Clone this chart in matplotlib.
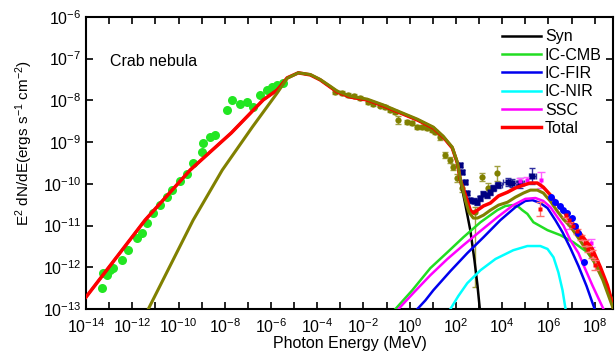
import numpy as np
import matplotlib
matplotlib.use("Agg")
import matplotlib.pyplot as plt

plt.rcParams['font.family'] = ['Liberation Sans', 'DejaVu Sans']
plt.rcParams['mathtext.fontset'] = 'custom'
plt.rcParams['mathtext.rm'] = 'Liberation Sans'
plt.rcParams['mathtext.it'] = 'Liberation Sans'

# all values are log10(E / MeV) and log10(E^2 dN/dE / erg s^-1 cm^-2)

syn_loge = [-14.0, -11.45, -9.5, -7.72, -6.34, -5.73, -5.30, -4.82, -4.30, -3.87, -3.44, -3.13,
            -2.57, -1.84, -1.14, -0.41, 0.33, 1.02, 1.45, 1.84, 2.06, 2.19, 2.41, 2.62, 2.80,
            2.93, 3.05]
syn_logf = [-12.71, -10.87, -9.67, -8.78, -7.99, -7.75, -7.46, -7.34, -7.39, -7.51, -7.68, -7.80,
            -7.92, -7.99, -8.13, -8.30, -8.47, -8.66, -8.88, -9.14, -9.50, -9.91, -10.51, -11.11,
            -11.83, -12.43, -13.1]

total_loge = [-14.0, -11.45, -9.5, -7.72, -6.34, -5.73, -5.30, -4.82, -4.30, -3.87, -3.44, -3.13,
              -2.57, -1.84, -1.14, -0.41, 0.33, 1.02, 1.45, 1.84, 2.06, 2.19, 2.41, 2.62, 2.75,
              2.93, 3.19, 3.49, 3.84, 4.23, 4.57, 4.92, 5.22, 5.52, 5.78, 6.09, 6.39, 6.65,
              6.95, 7.30, 7.60, 7.90, 8.25, 8.55, 8.81]
total_logf = [-12.71, -10.87, -9.67, -8.78, -7.99, -7.75, -7.46, -7.34, -7.39, -7.51, -7.68, -7.80,
              -7.92, -7.99, -8.13, -8.30, -8.47, -8.66, -8.88, -9.14, -9.50, -9.91, -10.27, -10.63,
              -10.70, -10.63, -10.53, -10.46, -10.29, -10.20, -10.10, -10.03, -9.98, -9.98, -10.08,
              -10.27, -10.49, -10.66, -10.87, -11.13, -11.35, -11.56, -12.0, -12.43, -12.95]

olive_loge = [-11.40, -9.37, -8.11, -6.81, -5.73, -5.30, -4.82, -4.30, -3.87, -3.44, -3.13, -2.57,
              -1.84, -1.14, -0.41, 0.33, 1.02, 1.45, 1.84, 2.06, 2.19, 2.41, 2.56, 2.75, 2.93,
              3.19, 3.49, 3.84, 4.23, 4.57, 4.92, 5.22, 5.52, 5.78, 6.09, 6.39, 6.65, 6.95, 7.30,
              7.60, 7.95, 8.35, 8.81]
olive_logf = [-13.1, -10.87, -9.67, -8.64, -7.82, -7.47, -7.34, -7.38, -7.50, -7.66, -7.78, -7.90,
              -7.97, -8.11, -8.28, -8.45, -8.64, -8.86, -9.12, -9.48, -9.89, -10.40, -10.68, -10.82,
              -10.82, -10.75, -10.63, -10.51, -10.44, -10.32, -10.22, -10.15, -10.15, -10.22,
              -10.42, -10.66, -10.85, -11.02, -11.30, -11.55, -11.83, -12.30, -13.0]

cmb_loge = [-0.62, 0.11, 0.89, 1.63, 2.32, 3.06, 3.79, 4.14, 4.44, 4.66, 4.87, 5.09, 5.35, 5.96,
            6.52, 7.08, 7.69, 8.12, 8.51, 8.90]
cmb_logf = [-13.0, -12.55, -12.02, -11.64, -11.28, -10.92, -10.63, -10.53, -10.51, -10.53, -10.63,
            -10.72, -10.92, -11.11, -11.23, -11.40, -11.64, -12.0, -12.43, -12.98]

fir_loge = [0.33, 0.68, 1.02, 1.76, 2.49, 3.19, 3.92, 4.57, 5.0, 5.31, 5.65, 5.96, 6.30, 6.61,
            6.95, 7.30, 7.65, 8.0]
fir_logf = [-13.0, -12.79, -12.55, -12.09, -11.66, -11.28, -10.87, -10.56, -10.41, -10.39, -10.46,
            -10.58, -10.87, -11.16, -11.54, -11.97, -12.45, -13.0]

nir_loge = [1.76, 2.10, 2.49, 3.06, 3.71, 4.48, 5.09, 5.65, 5.96, 6.22, 6.43, 6.61, 6.74]
nir_logf = [-13.0, -12.69, -12.38, -12.07, -11.80, -11.59, -11.49, -11.49, -11.56, -11.76, -12.12,
            -12.55, -13.0]

ssc_loge = [-0.49, 0.20, 0.89, 1.63, 2.32, 3.06, 3.79, 4.48, 5.0, 5.44, 5.78, 6.09, 6.39, 6.65,
            6.95, 7.30, 7.52, 7.90, 8.38]
ssc_logf = [-13.0, -12.59, -12.19, -11.80, -11.47, -11.13, -10.80, -10.51, -10.36, -10.34, -10.41,
            -10.56, -10.80, -11.00, -11.35, -11.66, -11.95, -12.43, -13.0]

# radio / optical points
radio_loge = [-13.31, -13.26, -13.09, -12.96, -12.83, -12.44, -12.18, -11.79, -11.58, -11.36,
              -11.10, -10.80, -10.49, -10.28, -9.93, -9.63, -9.37, -8.98, -8.94, -8.63, -8.42,
              -7.90, -7.68, -7.33, -7.03, -6.77, -6.47, -6.16, -5.95, -5.73, -5.47]
radio_logf = [-12.50, -12.14, -12.19, -12.07, -12.02, -11.83, -11.59, -11.30, -11.18, -10.94,
              -10.70, -10.51, -10.32, -10.15, -9.93, -9.77, -9.50, -9.24, -9.02, -8.88, -8.83,
              -8.23, -7.99, -8.09, -8.04, -8.16, -7.87, -7.75, -7.68, -7.63, -7.58]

# X-ray / soft gamma points
xray_loge = [-3.22, -2.92, -2.66, -2.40, -2.14, -1.79, -1.58, -1.27, -1.06, -0.84, -0.62, -0.49,
             -0.10, 0.11, 0.33, 0.55, 0.76, 0.98, 1.11, 1.32, 1.54, 1.76, 1.89, 2.06, 2.28, 2.84,
             3.14, 3.40, 3.79]
xray_logf = [-7.80, -7.82, -7.87, -7.89, -7.94, -8.04, -8.09, -8.13, -8.16, -8.23, -8.28, -8.47,
             -8.52, -8.54, -8.64, -8.64, -8.66, -8.71, -8.76, -8.88, -9.31, -9.43, -9.60, -9.86,
             -10.10, -10.68, -9.84, -10.10, -9.74]
xray_err_lo = [0.04, 0.04, 0.04, 0.04, 0.04, 0.04, 0.04, 0.04, 0.04, 0.05, 0.05, 0.1,
               0.05, 0.05, 0.05, 0.05, 0.05, 0.05, 0.05, 0.06, 0.08, 0.08, 0.08, 0.1, 0.1, 1.8,
               0.1, 0.12, 0.2]
xray_err_hi = [0.04, 0.04, 0.04, 0.04, 0.04, 0.04, 0.04, 0.04, 0.04, 0.05, 0.05, 0.1,
               0.05, 0.05, 0.05, 0.05, 0.05, 0.05, 0.05, 0.06, 0.08, 0.08, 0.08, 0.1, 0.1, 0.12,
               0.1, 0.12, 0.17]

# Fermi-LAT points
lat_loge = [2.19, 2.28, 2.41, 2.49, 2.62, 2.80, 2.93, 3.06, 3.19, 3.36, 3.49, 3.62, 3.84, 4.23,
            4.44, 4.79, 5.31]
lat_logf = [-9.55, -9.72, -9.96, -10.22, -10.39, -10.41, -10.44, -10.34, -10.24, -10.27, -10.20,
            -10.10, -10.03, -9.96, -9.98, -9.98, -9.81]
lat_err = [0.05, 0.05, 0.05, 0.05, 0.06, 0.06, 0.06, 0.06, 0.06, 0.06, 0.06, 0.07, 0.08, 0.1,
           0.1, 0.12, 0.2]
lat_xerr = [0.05, 0.05, 0.05, 0.05, 0.05, 0.05, 0.05, 0.05, 0.05, 0.05, 0.05, 0.1, 0.15, 0.2,
            0.15, 0.15, 0.15]

# ground-based points
hess_loge = [6.09, 6.30, 6.48, 6.65, 6.82, 7.00, 7.17, 7.30, 7.52]
hess_logf = [-10.32, -10.44, -10.53, -10.63, -10.70, -10.82, -11.01, -11.18, -11.88]

magic_loge = [4.79, 5.09, 5.70, 6.87, 7.82]
magic_logf = [-9.93, -9.91, -9.91, -10.96, -11.42]
magic_err = [0.06, 0.08, 0.2, 0.12, 0.1]

hegra_loge = [5.65, 6.74, 6.91, 7.08, 7.25, 7.43, 7.60, 7.73, 7.90, 8.03]
hegra_logf = [-10.60, -10.75, -10.87, -11.01, -11.13, -11.28, -11.42, -11.56, -11.68, -11.95]
hegra_err = [0.16, 0.05, 0.05, 0.05, 0.06, 0.06, 0.07, 0.08, 0.1, 0.12]


def lin(v):
    return 10.0 ** np.asarray(v, dtype=float)


def dex_err(logf, lo, hi):
    f = lin(logf)
    return [f * (1 - 10.0 ** (-np.asarray(lo))), f * (10.0 ** np.asarray(hi) - 1)]


fig, ax = plt.subplots(figsize=(6.15, 3.52), dpi=100)
fig.subplots_adjust(left=0.140, right=0.997, bottom=0.122, top=0.952)

ax.plot(lin(radio_loge), lin(radio_logf), 'o', color='#22e622', ms=6.5, mec='none', zorder=2)
ax.errorbar(lin(xray_loge), lin(xray_logf), yerr=dex_err(xray_logf, xray_err_lo, xray_err_hi),
            fmt='o', color='#808000', ecolor='#a0a040', ms=4.5, mec='none', elinewidth=1,
            capsize=2.5, zorder=2)
ax.errorbar(lin(lat_loge), lin(lat_logf), yerr=dex_err(lat_logf, lat_err, lat_err),
            xerr=dex_err(lat_loge, lat_xerr, lat_xerr),
            fmt='s', color='#000080', ecolor='#3030a0', ms=4.5, mec='none', elinewidth=1,
            capsize=2, zorder=2)
ax.errorbar(lin(magic_loge), lin(magic_logf), yerr=dex_err(magic_logf, magic_err, magic_err),
            fmt='s', color='#ff00ff', ecolor='#ff60ff', ms=2.5, mec='none', elinewidth=1,
            capsize=3, zorder=2)

ax.plot(lin(syn_loge), lin(syn_logf), color='black', lw=1.8, label='Syn', zorder=3)
ax.plot(lin(cmb_loge), lin(cmb_logf), color='#22dd22', lw=1.8, label='IC-CMB', zorder=3)
ax.plot(lin(fir_loge), lin(fir_logf), color='#0000ee', lw=1.8, label='IC-FIR', zorder=3)
ax.plot(lin(nir_loge), lin(nir_logf), color='#00ffff', lw=1.8, label='IC-NIR', zorder=3)
ax.plot(lin(ssc_loge), lin(ssc_logf), color='#ff00ff', lw=1.8, label='SSC', zorder=3)
ax.plot(lin(total_loge), lin(total_logf), color='#ff0000', lw=2.5, label='Total', zorder=3)
ax.plot(lin(olive_loge), lin(olive_logf), color='#808000', lw=2.2, zorder=3)

ax.errorbar(lin(hegra_loge), lin(hegra_logf), yerr=dex_err(hegra_logf, hegra_err, hegra_err),
            fmt='s', color='#ff0000', ecolor='#ff7070', ms=3.5, mec='none', elinewidth=1,
            capsize=3, zorder=4)
ax.plot(lin(hess_loge), lin(hess_logf), 'o', color='#0000ff', ms=5, mec='none', zorder=4)

ax.set_xscale('log')
ax.set_yscale('log')
ax.set_xlim(1e-14, 10 ** 8.8)
ax.set_ylim(1e-13, 1e-6)

xt = [10.0 ** k for k in range(-14, 9)]
ax.set_xticks(xt)
ax.set_xticklabels([r'$\mathdefault{10^{%d}}$' % k if k % 2 == 0 else '' for k in range(-14, 9)])
ax.set_yticks([10.0 ** k for k in range(-13, -5)])
ax.minorticks_off()
ax.tick_params(which='both', direction='in', top=True, right=True, length=5, width=1.2,
               labelsize=11.5)
ax.tick_params(axis='x', pad=6)
for s in ax.spines.values():
    s.set_linewidth(1.5)

ax.set_xlabel('Photon Energy (MeV)', fontsize=11.5, labelpad=0)
ax.set_ylabel(r'E$^{2}$ dN/dE(ergs s$^{-1}$ cm$^{-2}$)', fontsize=11)
ax.yaxis.set_label_coords(-0.097, 0.57)
ax.text(0.046, 0.846, 'Crab nebula', transform=ax.transAxes, fontsize=11.5, va='center')

ax.legend(loc='upper left', bbox_to_anchor=(0.79, 0.958), frameon=False, fontsize=11.5,
          handlelength=2.4, handletextpad=0.25, labelspacing=0.21, borderpad=0,
          borderaxespad=0)

fig.savefig('out.png', dpi=100)
